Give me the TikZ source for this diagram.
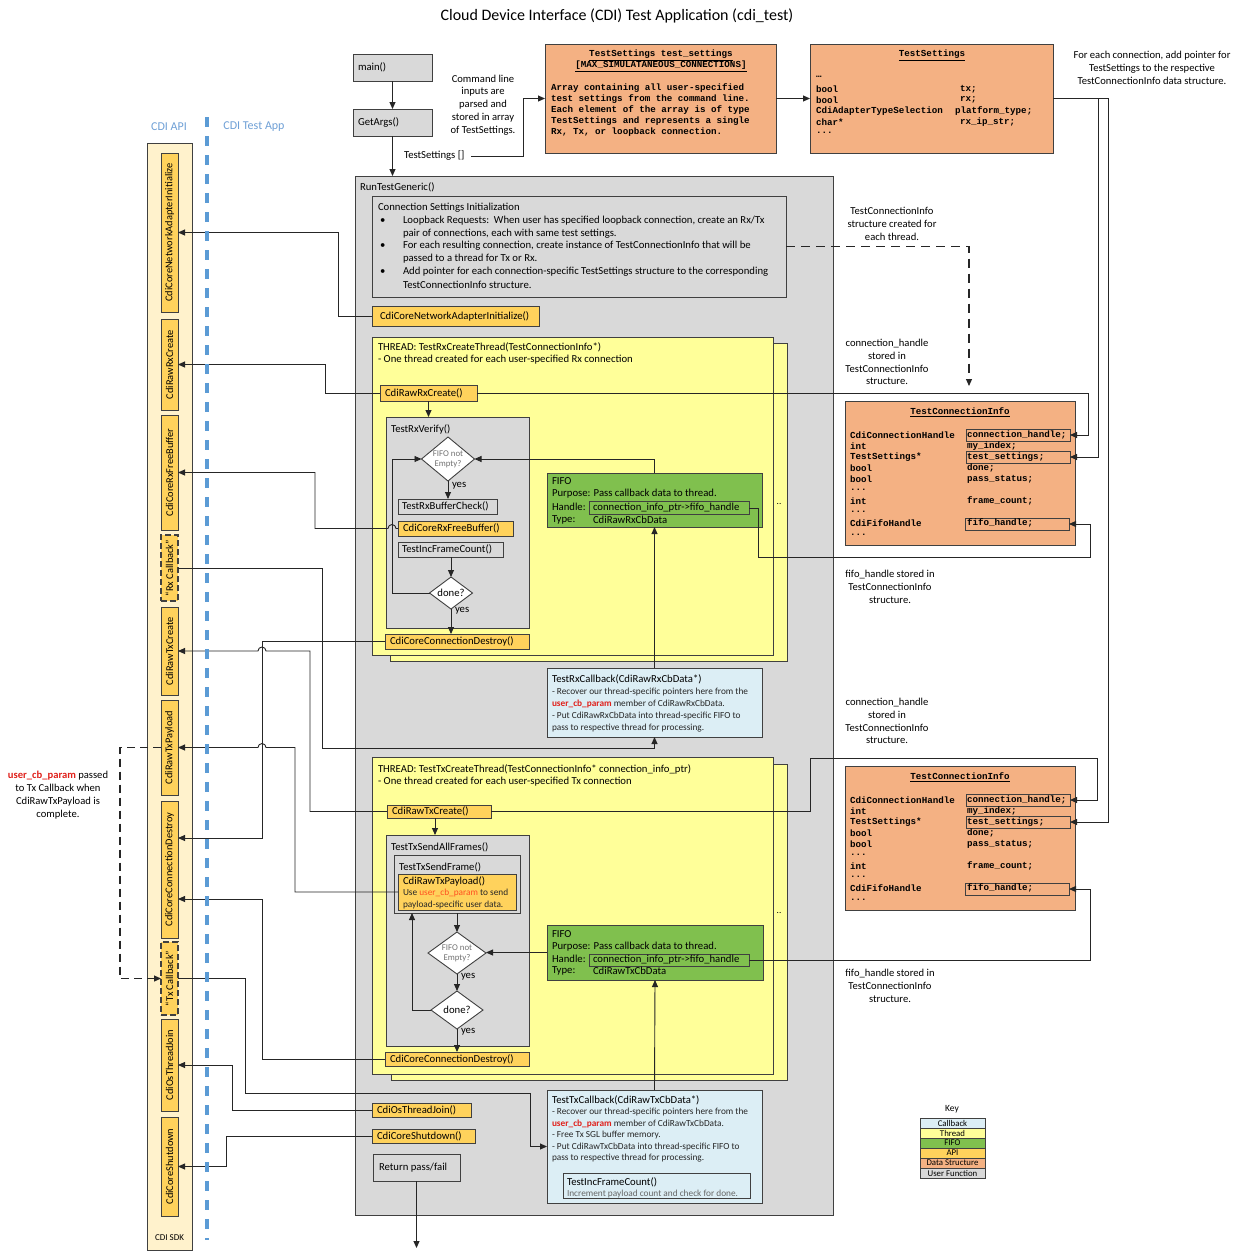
\documentclass[tikz,border=0pt]{standalone}
\usepackage{fontspec}
\setmainfont{Carlito}
\newfontfamily\monofam{Liberation Mono}
\usetikzlibrary{arrows.meta,shapes.geometric}
\definecolor{graybg}{HTML}{D9D9D9}
\definecolor{apicol}{HTML}{FFD25C}
\definecolor{threadcol}{HTML}{FFFF99}
\definecolor{fifocol}{HTML}{80C04E}
\definecolor{cbcol}{HTML}{DCEEF5}
\definecolor{dscol}{HTML}{F4B183}
\definecolor{sdkcol}{HTML}{FFF2CC}
\definecolor{bluedash}{HTML}{5B9BD5}
\definecolor{apiblue}{HTML}{6FA0D6}
\definecolor{redtxt}{HTML}{E0201B}
\definecolor{orgtxt}{HTML}{FF4F1F}
\definecolor{edge}{HTML}{404040}
\newcommand\fa{\fontsize{10.7}{12.8}\selectfont}
\newcommand\fb{\fontsize{9.3}{12}\selectfont}
\newcommand\fm{\monofam\bfseries\fontsize{9.2}{11}\selectfont}
\newcommand\ucb{\textcolor{redtxt}{\bfseries user\_cb\_param}}
% one TestConnectionInfo structure: #1 name, #2 top edge
\newcommand\tciblock[2]{%
  \node[dstr, minimum width=230pt, minimum height=144pt] (#1) at (845,#2) {};
  \node[font=\fm] (#1title) at (960,{#2+11}) {\underline{TestConnectionInfo}};
  \node[hbox, minimum width=104pt, minimum height=12pt] (#1ch) at (966,{#2+28}) {};
  \node[hbox, minimum width=104pt, minimum height=12pt] (#1ts) at (966,{#2+50}) {};
  \node[hbox, minimum width=104pt, minimum height=12pt] (#1fh) at (965,{#2+117}) {};
  \foreach \dy/\tl/\tr [count=\k] in {34/{CdiConnectionHandle}/{connection\_handle;},
      45/{int}/{my\_index;}, 56/{TestSettings*}/{test\_settings;}, 67/{bool}/{done;},
      78/{bool}/{pass\_status;}, 89/{...}/{}, 100/{int}/{frame\_count;}, 111/{...}/{},
      122/{CdiFifoHandle}/{fifo\_handle;}, 134/{...}/{}} {
    \node[mono] (#1l\k) at (850,{#2+\dy}) {\tl};
    \node[mono] (#1r\k) at (967,{#2+\dy}) {\tr};
  }
}
\begin{document}
\begin{tikzpicture}[x=1pt,y=-1pt,
  every node/.style={inner sep=0pt, outer sep=0pt},
  box/.style={draw=edge, line width=0.9pt, anchor=north west},
  ufn/.style={box, fill=graybg},
  api/.style={box, fill=apicol},
  thr/.style={box, fill=threadcol},
  fifo/.style={box, fill=fifocol},
  cbk/.style={box, fill=cbcol},
  dstr/.style={box, fill=dscol},
  hbox/.style={draw=edge, line width=0.9pt, anchor=north west},
  lab/.style={anchor=west, font=\fa},
  small/.style={anchor=west, font=\fb, text=black!85},
  mono/.style={anchor=west, font=\fm},
  dec/.style={diamond, draw=edge, line width=0.9pt, fill=white},
  dtext/.style={align=center, font=\fontsize{8.8}{10}\selectfont, text=black!55},
  ln/.style={draw=black!85, line width=0.9pt},
  arr/.style={ln, -{Triangle[length=7pt,width=6pt]}},
  colbox/.style={api, minimum width=17pt},
  cbbox/.style={colbox, dash pattern=on 6pt off 3pt, line width=1.2pt},
  coltext/.style={rotate=90, font=\fontsize{10.4}{12}\selectfont},
  note/.style={align=center, font=\fontsize{10.6}{12.8}\selectfont},
]
\fill[white] (0,0) rectangle (1241,1251);
\useasboundingbox (0,0) rectangle (1241,1251);

% ---------- title ----------
\node[font=\fontsize{16}{19}\selectfont] (title) at (617,16) {Cloud Device Interface (CDI) Test Application (cdi\_test)};

% ---------- SDK column ----------
\coordinate (bdTop) at (207,117);
\coordinate (bdBot) at (207,1240);
\node[font=\fontsize{12}{14}\selectfont, text=apiblue] (apiT) at (169,127) {CDI API};
\node[font=\fontsize{12}{14}\selectfont, text=apiblue] (appT) at (254,127) {CDI Test App};
\node[box, fill=sdkcol, draw=black!75, minimum width=45pt, minimum height=1107pt] (sdk) at (147,143) {};
\node[font=\fontsize{9}{10}\selectfont] (sdkT) at (169.5,1238) {CDI SDK};
\node[colbox, minimum height=159pt] (c1) at (161,153) {};
\node[coltext] (c1T) at (c1.center) {CdiCoreNetworkAdapterInitialize};
\node[colbox, minimum height=91pt] (c2) at (161,319) {};
\node[coltext] (c2T) at (c2.center) {CdiRawRxCreate};
\node[colbox, minimum height=115pt] (c3) at (161,415) {};
\node[coltext] (c3T) at (c3.center) {CdiCoreRxFreeBuffer};
\node[cbbox, minimum height=66pt] (c4) at (161,535) {};
\node[coltext] (c4T) at (c4.center) {“Rx Callback”};
\node[colbox, minimum height=88pt] (c5) at (161,607) {};
\node[coltext] (c5T) at (c5.center) {CdiRawTxCreate};
\node[colbox, minimum height=95pt] (c6) at (161,700) {};
\node[coltext] (c6T) at (c6.center) {CdiRawTxPayload};
\node[colbox, minimum height=137pt] (c7) at (161,801) {};
\node[coltext] (c7T) at (c7.center) {CdiCoreConnectionDestroy};
\node[cbbox, minimum height=73pt] (c8) at (161,942) {};
\node[coltext] (c8T) at (c8.center) {“Tx Callback”};
\node[colbox, minimum height=92pt] (c9) at (161,1019) {};
\node[coltext] (c9T) at (c9.center) {CdiOsThreadJoin};
\node[colbox, minimum height=99pt] (c10) at (161,1117) {};
\node[coltext] (c10T) at (c10.center) {CdiCoreShutdown};

\node[note] (ucbNote) at (58,795) {\ucb{} passed\\to Tx Callback when\\CdiRawTxPayload is\\complete.};

% ---------- main / GetArgs ----------
\node[ufn, minimum width=79pt, minimum height=27pt] (main) at (353,54) {};
\node[lab] (mainT) at ([xshift=5pt]main.west) {main()};
\node[ufn, minimum width=79pt, minimum height=27pt] (getargs) at (353,109) {};
\node[lab] (getargsT) at ([xshift=5pt]getargs.west) {GetArgs()};
\draw[arr] (main.south) -- (getargs.north);
\node[note] (cmdNote) at (483,105) {Command line\\inputs are\\parsed and\\stored in array\\of TestSettings.};
\node[lab] (tsT) at (404,156) {TestSettings []};

% ---------- TestSettings array ----------
\node[dstr, minimum width=231pt, minimum height=109pt] (tsarr) at (545,44) {};
\node[font=\fm, align=center] (tsarrT) at (661,61) {\underline{TestSettings test\_settings}\\\underline{[MAX\_SIMULATANEOUS\_CONNECTIONS]}};
\node[font=\fm, align=left, anchor=north west] (tsarrB) at (551,84) {Array containing all user-specified\\test settings from the command line.\\Each element of the array is of type\\TestSettings and represents a single\\Rx, Tx, or loopback connection.};
\draw[arr] ([xshift=7pt]tsT.east) -- (523,156) |- (tsarr.west);

% ---------- TestSettings structure ----------
\node[dstr, minimum width=243pt, minimum height=109pt] (tsstruct) at (810,44) {};
\node[font=\fm] (tsstructT) at (932,55) {\underline{TestSettings}};
\node[mono] (tss1) at (816,77) {…};
\node[mono] (tss2) at (816,89) {bool};
\node[mono] (tss2r) at (960,89) {tx;};
\node[mono] (tss3) at (816,100) {bool};
\node[mono] (tss3r) at (960,100) {rx;};
\node[mono] (tss4) at (816,111) {CdiAdapterTypeSelection};
\node[mono] (tss4r) at (955,111) {platform\_type;};
\node[mono] (tss5) at (816,122) {char*};
\node[mono] (tss5r) at (960,122) {rx\_ip\_str;};
\node[mono] (tss6) at (816,133) {...};
\draw[arr] (tsarr.east) -- (tsstruct.west);
\node[note] (ptrNote) at (1152,68) {For each connection, add pointer for\\TestSettings to the respective\\TestConnectionInfo data structure.};

% ---------- RunTestGeneric ----------
\node[ufn, minimum width=478pt, minimum height=1039pt] (rtg) at (355,176) {};
\node[lab] (rtgT) at (360,187) {RunTestGeneric()};
\draw[arr] (getargs.south) -- (getargs.south |- rtg.north);

\node[ufn, minimum width=414pt, minimum height=101pt] (csi) at (372,196) {};
\node[lab] (csi0) at (378,208) {Connection Settings Initialization};
\node[lab] (csib1) at (380,221) {•};
\node[lab] (csi1) at (403,221) {Loopback Requests:\ \ When user has specified loopback connection, create an Rx/Tx};
\node[lab] (csi2) at (403,234) {pair of connections, each with same test settings.};
\node[lab] (csib2) at (380,246) {•};
\node[lab] (csi3) at (403,246) {For each resulting connection, create instance of TestConnectionInfo that will be};
\node[lab] (csi4) at (403,259) {passed to a thread for Tx or Rx.};
\node[lab] (csib3) at (380,272) {•};
\node[lab] (csi5) at (403,272) {Add pointer for each connection-specific TestSettings structure to the corresponding};
\node[lab] (csi6) at (403,285) {TestConnectionInfo structure.};
\node[note] (newNote) at (892,224) {TestConnectionInfo\\structure created for\\each thread.};

\node[api, minimum width=167pt, minimum height=20pt] (nai) at (372,306) {};
\node[lab] (naiT) at ([xshift=8pt]nai.west) {CdiCoreNetworkAdapterInitialize()};

% ---------- Rx thread ----------
\node[thr, minimum width=397pt, minimum height=318pt] (rxthrB) at (390,343) {};
\node[thr, minimum width=401pt, minimum height=318pt] (rxthr) at (372,337) {};
\node[lab] (rxthr1) at (378,347) {THREAD: TestRxCreateThread(TestConnectionInfo*)};
\node[lab] (rxthr2) at (378,360) {- One thread created for each user-specified Rx connection};
\node[font=\fb] (rxdots) at (779,504) {..};
\node[api, minimum width=97pt, minimum height=16pt] (rxcreate) at (380,385) {};
\node[lab] (rxcreateT) at ([xshift=5pt]rxcreate.west) {CdiRawRxCreate()};
\node[ufn, minimum width=143pt, minimum height=211pt] (rxverify) at (386,417) {};
\node[lab] (rxverifyT) at (391,429) {TestRxVerify()};
\node[dec, minimum width=53pt, minimum height=44pt] (d1) at (448,459) {};
\node[dtext] (d1T) at (d1.center) {FIFO not\\Empty?};
\node[ufn, minimum width=99pt, minimum height=15pt] (rxbuf) at (398,499) {};
\node[lab] (rxbufT) at ([xshift=4pt]rxbuf.west) {TestRxBufferCheck()};
\node[api, minimum width=115pt, minimum height=15pt] (rxfree) at (398,521) {};
\node[lab] (rxfreeT) at ([xshift=5pt]rxfree.west) {CdiCoreRxFreeBuffer()};
\node[ufn, minimum width=105pt, minimum height=15pt] (rxinc) at (398,542) {};
\node[lab] (rxincT) at ([xshift=4pt]rxinc.west) {TestIncFrameCount()};
\node[dec, minimum width=43pt, minimum height=32pt] (d2) at (451,593) {};
\node[font=\fa] (d2T) at (d2.center) {done?};
\node[api, minimum width=144pt, minimum height=15pt] (rxdestroy) at (385,634) {};
\node[lab] (rxdestroyT) at ([xshift=5pt]rxdestroy.west) {CdiCoreConnectionDestroy()};
\node[lab] (yes1) at (452,486) {yes};
\node[lab] (yes2) at (455,611) {yes};

\node[fifo, minimum width=215pt, minimum height=54pt] (fifo1) at (547,473) {};
\node[lab] (f1a) at (552,481) {FIFO};
\node[lab] (f1b) at (552,494) {Purpose: Pass callback data to thread.};
\node[lab] (f1c) at (552,507) {Handle:};
\node[hbox, minimum width=160pt, minimum height=13pt] (h1) at (589,501.5) {};
\node[lab] (h1T) at (593,508) {connection\_info\_ptr->fifo\_handle};
\node[lab] (f1d) at (552,520) {Type:};
\node[lab] (f1e) at (593,520) {CdiRawRxCbData};

\node[cbk, minimum width=215pt, minimum height=69pt] (rxcb) at (547,668) {};
\node[lab] (rxcb0) at (552,679) {TestRxCallback(CdiRawRxCbData*)};
\node[small] (rxcb1) at (552,692) {- Recover our thread-specific pointers here from the};
\node[small] (rxcb2) at (552,704) {\ucb{} member of CdiRawRxCbData.};
\node[small] (rxcb3) at (552,716) {- Put CdiRawRxCbData into thread-specific FIFO to};
\node[small] (rxcb4) at (552,728) {pass to respective thread for processing.};

% ---------- Tx thread ----------
\node[thr, minimum width=396pt, minimum height=316pt] (txthrB) at (391,764) {};
\node[thr, minimum width=401pt, minimum height=317pt] (txthr) at (372,757) {};
\node[lab] (txthr1) at (378,769) {THREAD: TestTxCreateThread(TestConnectionInfo* connection\_info\_ptr)};
\node[lab] (txthr2) at (378,782) {- One thread created for each user-specified Tx connection};
\node[font=\fb] (txdots) at (779,913) {..};
\node[api, minimum width=104pt, minimum height=13pt] (txcreate) at (387,805) {};
\node[lab] (txcreateT) at ([xshift=5pt]txcreate.west) {CdiRawTxCreate()};
\node[ufn, minimum width=143pt, minimum height=211pt] (txsend) at (386,835) {};
\node[lab] (txsendT) at (391,847) {TestTxSendAllFrames()};
\node[ufn, minimum width=126pt, minimum height=58pt] (txframe) at (394,855) {};
\node[lab] (txframeT) at (399,867) {TestTxSendFrame()};
\node[api, minimum width=118pt, minimum height=36pt] (txpay) at (398,874) {};
\node[lab] (txpay0) at (403,881) {CdiRawTxPayload()};
\node[small] (txpay1) at (403,893) {Use \textcolor{orgtxt}{user\_cb\_param} to send};
\node[small] (txpay2) at (403,905) {payload-specific user data.};
\node[dec, minimum width=58pt, minimum height=42pt] (d3) at (457,953) {};
\node[dtext] (d3T) at (d3.center) {FIFO not\\Empty?};
\node[dec, minimum width=52pt, minimum height=38pt] (d4) at (457,1010) {};
\node[font=\fa] (d4T) at (d4.center) {done?};
\node[api, minimum width=144pt, minimum height=14pt] (txdestroy) at (385,1052) {};
\node[lab] (txdestroyT) at ([xshift=5pt]txdestroy.west) {CdiCoreConnectionDestroy()};
\node[lab] (yes3) at (461,977) {yes};
\node[lab] (yes4) at (461,1032) {yes};
\coordinate (loopUp) at (412,913);

\node[fifo, minimum width=216pt, minimum height=55pt] (fifo2) at (547,925) {};
\node[lab] (f2a) at (552,934) {FIFO};
\node[lab] (f2b) at (552,947) {Purpose: Pass callback data to thread.};
\node[lab] (f2c) at (552,959) {Handle:};
\node[hbox, minimum width=160pt, minimum height=12pt] (h2) at (589,954) {};
\node[lab] (h2T) at (593,960) {connection\_info\_ptr->fifo\_handle};
\node[lab] (f2d) at (552,971) {Type:};
\node[lab] (f2e) at (593,971) {CdiRawTxCbData};

\node[cbk, minimum width=215pt, minimum height=113pt] (txcb) at (547,1090) {};
\node[lab] (txcb0) at (552,1100) {TestTxCallback(CdiRawTxCbData*)};
\node[small] (txcb1) at (552,1112) {- Recover our thread-specific pointers here from the};
\node[small] (txcb2) at (552,1124) {\ucb{} member of CdiRawTxCbData.};
\node[small] (txcb3) at (552,1135) {- Free Tx SGL buffer memory.};
\node[small] (txcb4) at (552,1147) {- Put CdiRawTxCbData into thread-specific FIFO to};
\node[small] (txcb5) at (552,1158) {pass to respective thread for processing.};
\node[hbox, minimum width=187pt, minimum height=25pt] (tif) at (563,1173) {};
\node[lab] (tifT) at (567,1182) {TestIncFrameCount()};
\node[small, text=black!60] (tifD) at (567,1194) {Increment payload count and check for done.};

\node[api, minimum width=99pt, minimum height=14pt] (tjoin) at (372,1103) {};
\node[lab] (tjoinT) at ([xshift=5pt]tjoin.west) {CdiOsThreadJoin()};
\node[api, minimum width=103pt, minimum height=14pt] (shut) at (372,1129) {};
\node[lab] (shutT) at ([xshift=5pt]shut.west) {CdiCoreShutdown()};
\node[ufn, minimum width=87pt, minimum height=27pt] (retpf) at (373,1154) {};
\node[lab] (retpfT) at ([xshift=6pt]retpf.west) {Return pass/fail};
\coordinate (rtnEnd) at (416.5,1248);

% ---------- TestConnectionInfo structures ----------
\tciblock{tciA}{401}
\tciblock{tciB}{766}
\node[note] (chNoteA) at (887,362) {connection\_handle\\stored in\\TestConnectionInfo\\structure.};
\node[note] (fhNoteA) at (890,587) {fifo\_handle stored in\\TestConnectionInfo\\structure.};
\node[note] (chNoteB) at (887,721) {connection\_handle\\stored in\\TestConnectionInfo\\structure.};
\node[note] (fhNoteB) at (890,986) {fifo\_handle stored in\\TestConnectionInfo\\structure.};
\coordinate (tciNew) at (969,386);

% ---------- key ----------
\node[font=\fontsize{9.5}{11}\selectfont] (keyT) at (952,1109) {Key};
\foreach \nm/\cl [count=\k] in {Callback/cbcol, Thread/threadcol, FIFO/fifocol, API/apicol, Data Structure/dscol, User Function/graybg} {
  \node[box, fill=\cl, minimum width=65pt, minimum height=10.2pt, line width=0.6pt, font=\fontsize{8.8}{9}\selectfont] (key\k) at (920,{1108+10*\k}) {\nm};
}

% ---------- connectors: flow inside the application ----------
\draw[arr] (rxcreate.south) -- (rxcreate.south |- rxverify.north);
\draw[arr] (d1.south) -- (d1.south |- rxbuf.north);
\draw[arr] (rxinc.south -| d2.north) -- (d2.north);
\draw[arr] (d2.west) -- (392,593) |- (d1.west);
\draw[arr] (d2.south) -- (d2.south |- rxdestroy.north);
\draw[arr] (fifo1.north) |- (d1.east);
\draw[arr] (rxcb.north) -- (fifo1.south);

\draw[arr] (txcreate.south -| 435,0) -- (435,835);
\draw[arr] (txframe.south) -- (d3.north);
\draw[arr] (fifo2.west) -- (fifo2.west -| d3.east);
\draw[arr] (d3.south) -- (d4.north);
\draw[arr] (d4.west) -| (loopUp);
\draw[arr] (d4.south) -- (d4.south |- txdestroy.north);
\draw[arr] (txcb.north) -- (fifo2.south);
\draw[arr] (retpf.south) -- (rtnEnd);

% ---------- connectors: calls into the SDK ----------
\draw[arr] (nai.west) -- (338,316) |- (c1.east);
\draw[arr] (rxcreate.west) -- (325,393) |- (c2.east);
\draw[arr] (rxfree.west) -- (396,528.5) arc[start angle=0,end angle=180,radius=4pt] -- (315,528.5) |- (c3.east);
\draw[arr] (c4.east) -- (322,568) -- (322,748) -| (rxcb.south);
\draw[arr] (rxdestroy.west) -- (262,641.5) |- ([yshift=31.5pt]c7.east);
\draw[arr] (txcreate.west) -- (310,811.5) -- (310,651) -- (266,651) arc[start angle=0,end angle=180,radius=4pt] -- (c5.east);
\draw[arr] (txpay.west) -- (295,892) -- (295,747.5) -- (266,747.5) arc[start angle=0,end angle=180,radius=4pt] -- (c6.east);
\draw[arr] (txdestroy.west) -- (262,1059) |- ([yshift=-29.5pt]c7.east);
\draw[arr] (c8.east) -- (245,978.5) -- (245,1093) -- (530,1093) |- (txcb.west);
\draw[arr] (tjoin.west) -- (232,1110) |- (c9.east);
\draw[arr] (shut.west) -- (226,1136) |- (c10.east);
\draw[arr, dash pattern=on 8pt off 5pt, line width=1.2pt] (c6.west) -- (120,747.5) |- (c8.west);

% ---------- boundary between SDK and application ----------
\draw[bluedash, line width=3.6pt, dash pattern=on 10pt off 9pt] (bdTop) -- (bdBot);

% ---------- connectors: data structures ----------
\draw[arr, dash pattern=on 9pt off 6pt, line width=1.1pt] (csi.east) -| (tciNew);
\draw[arr] (tsstruct.east) -- (1098,98.5) |- (tciAts.east);
\draw[arr] (tsstruct.east) -- (1108,98.5) |- (tciBts.east);
\draw[arr] (rxcreate.east) -- (1088,393) |- (tciAch.east);
\draw[arr] (h1.east) -- (758,508) -- (758,557) -- (1090,557) |- (tciAfh.east);
\draw[arr] (txcreate.east) -- (810,811.5) -- (810,758) -- (1097,758) |- (tciBch.east);
\draw[arr] (h2.east) -- (1090,960) |- (tciBfh.east);
\end{tikzpicture}
\end{document}
